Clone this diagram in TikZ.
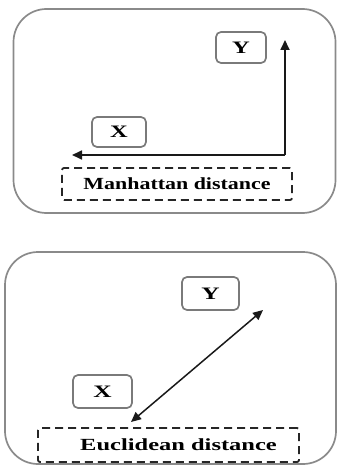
\documentclass[tikz,border=0pt]{standalone}
\usepackage{fontspec}
\setmainfont{Liberation Serif}
\usetikzlibrary{arrows.meta}
\definecolor{frame}{HTML}{8A8A8A}
\definecolor{lbl}{HTML}{7A7A7A}
\tikzset{
  panel/.style={draw=frame, line width=1.7pt, rounded corners=33pt, inner sep=0pt},
  letterbox/.style={draw=lbl, line width=1.7pt, rounded corners=5pt, inner sep=0pt, font=\fontsize{17.5}{20}\selectfont\bfseries},
  capbox/.style={draw=black!85, line width=1.8pt, dash pattern=on 8pt off 5pt, rounded corners=2pt, inner sep=0pt, font=\fontsize{17}{20}\selectfont\bfseries},
  arr/.style={draw=black!90, line width=1.7pt, -{Triangle[length=10pt,width=9pt]}},
  darr/.style={draw=black!90, line width=1.5pt, {Triangle[length=10pt,width=9pt]}-{Triangle[length=10pt,width=9pt]}}
}
\newcommand{\wide}[2][1.32]{\scalebox{#1}[1]{#2}}
\begin{document}
\begin{tikzpicture}[x=1pt,y=-1pt]
\useasboundingbox (0,0) rectangle (337,470);
% top panel
\node[panel, minimum width=322pt, minimum height=204pt] (p1) at (174.5,111) {};
\node[letterbox, minimum width=50pt, minimum height=31pt] (y1) at (241,47.5) {\wide[1.4]{Y}};
\node[letterbox, minimum width=54pt, minimum height=30pt] (x1) at (119,132) {\wide[1.4]{X}};
\node[capbox, minimum width=230pt, minimum height=32pt] (m) at (177,184) {\wide[1.29]{Manhattan distance}};
\coordinate (corner) at (285,155);
\coordinate (ytip) at (285,40);
\coordinate (xtip) at (72,155);
\draw[arr] (corner) -- (ytip);
\draw[arr] (corner) -- (xtip);
% bottom panel
\node[panel, minimum width=331pt, minimum height=212pt] (p2) at (170.5,358) {};
\node[letterbox, minimum width=57pt, minimum height=33pt] (y2) at (210.5,293.5) {\wide[1.45]{Y}};
\node[letterbox, minimum width=59pt, minimum height=33pt] (x2) at (102.5,391.5) {\wide[1.45]{X}};
\node[capbox, minimum width=261pt, minimum height=34pt] (e) at (168.5,445) {\hspace*{20pt}\wide[1.44]{Euclidean distance}};
\coordinate (a) at (131,422);
\coordinate (b) at (263,310);
\draw[darr] (a) -- (b);
\end{tikzpicture}
\end{document}
